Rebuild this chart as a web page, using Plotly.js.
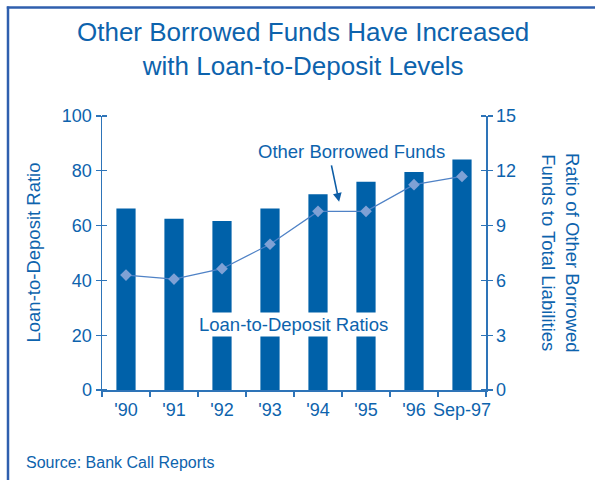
<!DOCTYPE html>
<html>
<head>
<meta charset="utf-8">
<script src="https://cdn.plot.ly/plotly-3.0.1.min.js"></script>
<style>
  html, body { margin: 0; padding: 0; background: #ffffff; }
  #chart { width: 595px; height: 480px; }
</style>
</head>
<body>
<div id="chart"></div>
<script>
// ---- Data ----
var years = ["'90", "'91", "'92", "'93", "'94", "'95", "'96", "Sep-97"];
var loanToDepositRatio = [66.2, 62.5, 61.7, 66.2, 71.4, 76.0, 79.6, 84.1];
var otherBorrowedRatio = [6.29, 6.07, 6.64, 7.98, 9.78, 9.78, 11.24, 11.69];
var leftTicks = [0, 20, 40, 60, 80, 100];
var rightTicks = [0, 3, 6, 9, 12, 15];

// ---- Styling ----
var textColor = '#0d63ad';
var barColor = '#0061a9';
var axisColor = '#2e74b8';
var frameColor = '#2f5fae';
var font = 'Liberation Sans, Arial, sans-serif';

// plot area in pixels: left 102, right 486, top 116, bottom 390
var L = 102, R = 486, T = 116, B = 390;
function px(x) { return (x - L) / (R - L); }
function py(y) { return (B - y) / (B - T); }

var traces = [
  {
    type: 'bar',
    x: years,
    y: loanToDepositRatio,
    width: 0.4,
    marker: { color: barColor, line: { width: 0 } },
    hoverinfo: 'x+y',
    xaxis: 'x',
    yaxis: 'y'
  },
  {
    type: 'scatter',
    mode: 'lines+markers',
    x: years,
    y: otherBorrowedRatio,
    line: { color: '#4f82c6', width: 1.3 },
    marker: { symbol: 'diamond', size: 9, color: '#7fa1d5' },
    xaxis: 'x',
    yaxis: 'y2'
  }
];

var layout = {
  width: 595,
  height: 480,
  margin: { l: L, r: 595 - R, t: T, b: 480 - B, pad: 0 },
  paper_bgcolor: '#ffffff',
  plot_bgcolor: '#ffffff',
  showlegend: false,
  bargap: 0.6,
  font: { family: font, color: textColor, size: 18 },
  xaxis: {
    type: 'category',
    range: [-0.5, 7.5],
    showgrid: false,
    zeroline: false,
    showline: true,
    linecolor: axisColor,
    linewidth: 1.5,
    ticks: 'outside',
    tickson: 'boundaries',
    ticklen: 5,
    tickwidth: 1.3,
    tickcolor: axisColor,
    tickangle: 0,
    ticklabelstandoff: 3,
    tickfont: { family: font, size: 18, color: textColor },
    fixedrange: true
  },
  xaxis2: {
    overlaying: 'x',
    anchor: 'y',
    range: [-0.5, 7.5],
    tick0: -0.5,
    dtick: 1,
    showgrid: false,
    zeroline: false,
    showline: false,
    showticklabels: false,
    ticks: 'inside',
    ticklen: 3,
    tickwidth: 1.3,
    tickcolor: axisColor
  },
  yaxis: {
    range: [0, 100],
    tickmode: 'array',
    tickvals: leftTicks,
    showgrid: false,
    zeroline: false,
    showline: true,
    linecolor: axisColor,
    linewidth: 1.5,
    ticks: 'outside',
    ticklen: 5,
    tickwidth: 1.3,
    tickcolor: axisColor,
    minor: { ticks: 'inside', dtick: 20, ticklen: 5, tickwidth: 1.3, tickcolor: axisColor, showgrid: false },
    tickfont: { family: font, size: 18, color: textColor },
    fixedrange: true
  },
  yaxis2: {
    overlaying: 'y',
    side: 'right',
    anchor: 'x',
    range: [0, 15],
    tickmode: 'array',
    tickvals: rightTicks,
    showgrid: false,
    zeroline: false,
    showline: true,
    linecolor: axisColor,
    linewidth: 1.5,
    ticks: 'outside',
    ticklen: 5,
    tickwidth: 1.3,
    tickcolor: axisColor,
    minor: { ticks: 'inside', dtick: 3, ticklen: 5, tickwidth: 1.3, tickcolor: axisColor, showgrid: false },
    tickfont: { family: font, size: 18, color: textColor },
    fixedrange: true
  },
  shapes: [
    { type: 'line', xref: 'paper', yref: 'paper', x0: px(8), x1: px(8), y0: py(6.5), y1: py(480),
      line: { color: frameColor, width: 2.5 } },
    { type: 'line', xref: 'paper', yref: 'paper', x0: px(6.8), x1: px(595), y0: py(7.5), y1: py(7.5),
      line: { color: frameColor, width: 2.5 } }
  ],
  annotations: [
    { xref: 'paper', yref: 'paper', x: px(303), y: py(49), xanchor: 'center', yanchor: 'middle',
      text: 'Other Borrowed Funds Have Increased<br>with Loan-to-Deposit Levels',
      showarrow: false, font: { family: font, size: 26, color: textColor } },
    { xref: 'paper', yref: 'paper', x: px(33), y: py(252.5), xanchor: 'center', yanchor: 'middle',
      text: 'Loan-to-Deposit Ratio', textangle: -90, showarrow: false,
      font: { family: font, size: 18.5, color: textColor } },
    { xref: 'paper', yref: 'paper', x: px(561), y: py(252), xanchor: 'center', yanchor: 'middle',
      text: 'Ratio of Other Borrowed<br>Funds to Total Liabilities', textangle: 90, showarrow: false,
      font: { family: font, size: 18.5, color: textColor } },
    { xref: 'paper', yref: 'paper', x: px(24), y: py(462), xanchor: 'left', yanchor: 'middle',
      text: 'Source: Bank Call Reports', showarrow: false,
      font: { family: font, size: 16, color: textColor } },
    { xref: 'x', yref: 'y', x: 3.49, y: 23.9, xanchor: 'center', yanchor: 'middle',
      text: 'Loan-to-Deposit Ratios', showarrow: false, bgcolor: '#ffffff', borderpad: 1,
      font: { family: font, size: 18.5, color: textColor } },
    { xref: 'x', yref: 'y2', x: 4.69, y: 13.08, xanchor: 'center', yanchor: 'middle',
      text: 'Other Borrowed Funds', showarrow: false,
      font: { family: font, size: 18.5, color: textColor } },
    { xref: 'x', yref: 'y2', x: 4.44, y: 10.3, text: '', showarrow: true,
      axref: 'pixel', ayref: 'pixel', ax: -8, ay: -38,
      arrowhead: 2, arrowsize: 1.1, arrowwidth: 1.6, arrowcolor: '#0d5da6', standoff: 0 }
  ]
};

Plotly.newPlot('chart', traces, layout, { displayModeBar: false, staticPlot: true });
</script>
</body>
</html>
